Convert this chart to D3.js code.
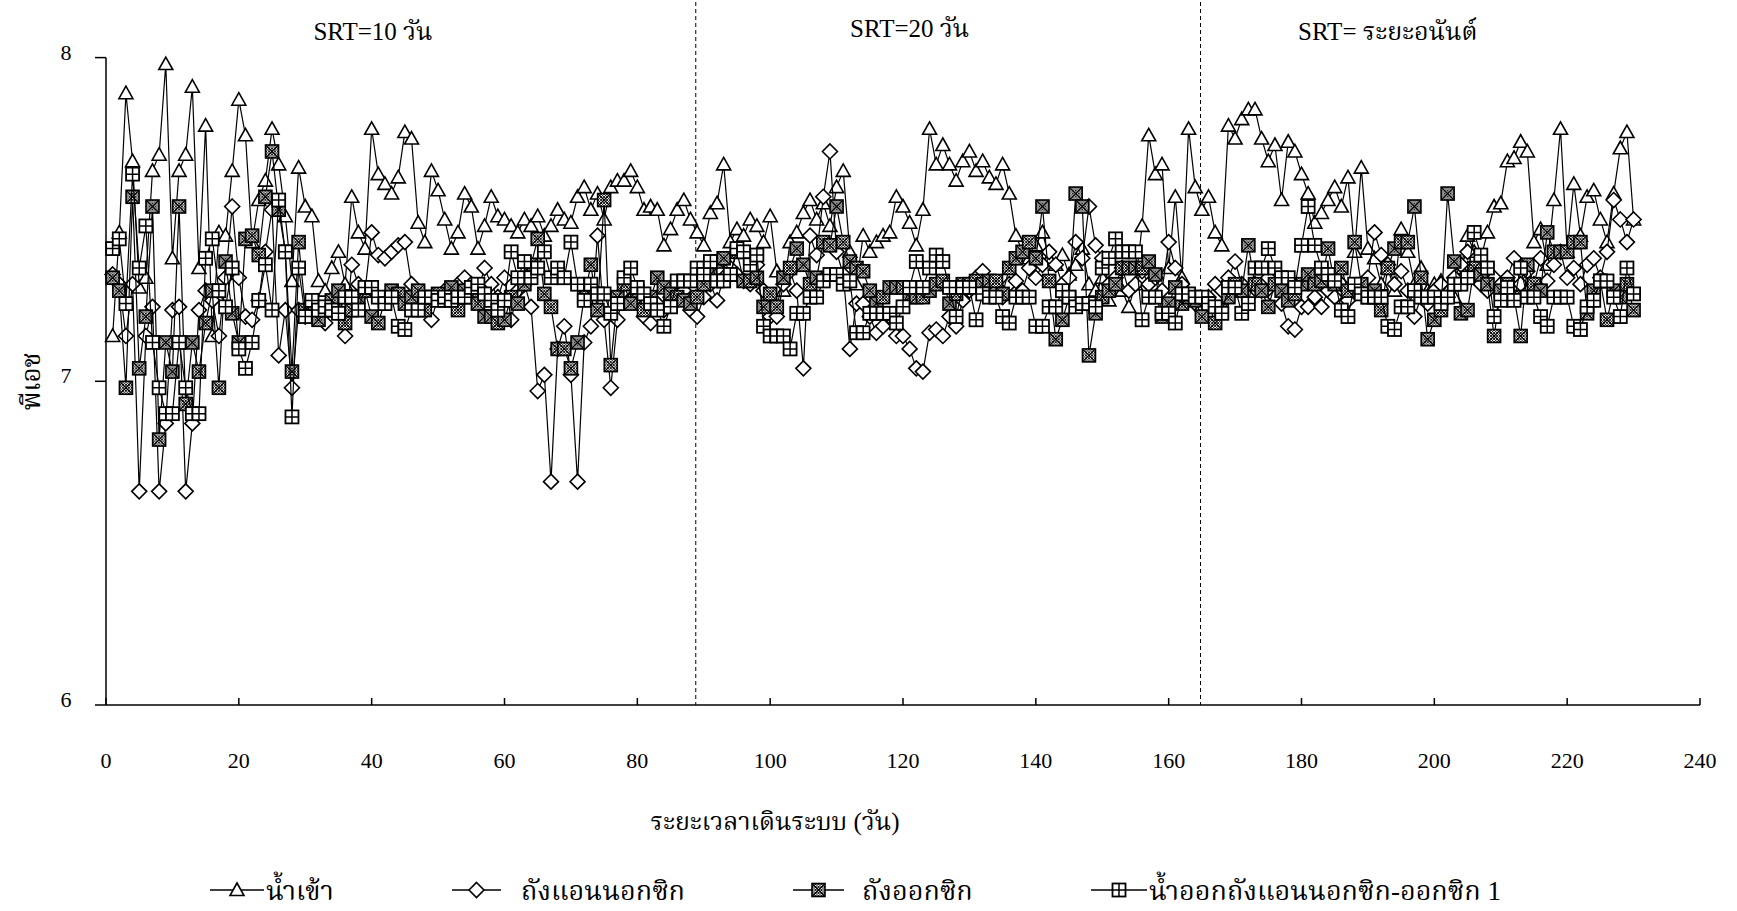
<html>
<head>
<meta charset="utf-8">
<script src="https://d3js.org/d3.v7.min.js"></script>
<style>
body { margin: 0; background: #fff; }
text { font-family: "Liberation Serif", "Norasi", "Kinnari", "Noto Serif Thai", "Noto Sans Thai", "DejaVu Serif", serif; fill: #000; }
</style>
</head>
<body>
<div id="chart"></div>
<script>

// pH per day, days 1..230
const influent = [7.14,7.46,7.89,7.68,7.29,7.32,7.65,7.70,7.98,7.38,7.65,7.70,7.91,7.35,7.79,7.14,7.46,7.45,7.65,7.87,
  7.76,7.43,7.56,7.62,7.78,7.67,7.51,7.31,7.66,7.54,7.51,7.31,7.28,7.35,7.40,7.30,7.57,7.46,7.41,7.78,
  7.64,7.61,7.58,7.63,7.77,7.75,7.49,7.43,7.65,7.59,7.50,7.41,7.46,7.58,7.54,7.41,7.48,7.57,7.51,7.50,
  7.48,7.46,7.50,7.48,7.51,7.45,7.48,7.53,7.50,7.49,7.57,7.60,7.53,7.58,7.50,7.60,7.62,7.62,7.65,7.60,
  7.53,7.54,7.53,7.42,7.47,7.53,7.56,7.50,7.46,7.42,7.52,7.55,7.67,7.43,7.47,7.45,7.50,7.48,7.43,7.51,
  7.34,7.28,7.43,7.46,7.52,7.56,7.50,7.55,7.48,7.60,7.65,7.40,7.30,7.45,7.40,7.43,7.45,7.46,7.57,7.54,
  7.49,7.42,7.53,7.78,7.67,7.73,7.67,7.62,7.68,7.71,7.65,7.68,7.63,7.61,7.67,7.58,7.45,7.40,7.38,7.42,
  7.46,7.38,7.36,7.39,7.33,7.36,7.41,7.30,7.28,7.32,7.25,7.30,7.28,7.23,7.30,7.48,7.76,7.64,7.67,7.35,
  7.57,7.32,7.78,7.60,7.53,7.57,7.46,7.42,7.79,7.75,7.81,7.84,7.84,7.75,7.68,7.73,7.56,7.74,7.71,7.64,
  7.58,7.49,7.52,7.56,7.60,7.54,7.63,7.40,7.66,7.41,7.38,7.30,7.35,7.28,7.47,7.40,7.30,7.35,7.28,7.30,
  7.31,7.28,7.26,7.35,7.45,7.40,7.38,7.46,7.54,7.55,7.68,7.69,7.74,7.71,7.43,7.47,7.36,7.56,7.78,7.40,
  7.61,7.45,7.57,7.59,7.50,7.43,7.58,7.72,7.77,7.50];

const anoxic = [7.33,7.30,7.14,7.30,6.66,7.14,7.23,6.66,6.87,7.22,7.23,6.66,6.87,7.22,7.28,7.25,7.14,7.32,7.54,7.32,
  7.20,7.19,7.25,7.40,7.53,7.08,7.22,6.98,7.22,7.20,7.24,7.20,7.18,7.22,7.26,7.14,7.36,7.30,7.28,7.46,
  7.39,7.38,7.40,7.42,7.43,7.30,7.25,7.24,7.19,7.26,7.28,7.26,7.30,7.32,7.30,7.28,7.35,7.30,7.26,7.32,
  7.19,7.28,7.30,7.23,6.97,7.02,6.69,7.10,7.17,7.02,6.69,7.12,7.17,7.45,7.19,6.98,7.19,7.28,7.25,7.26,
  7.20,7.18,7.24,7.22,7.26,7.25,7.28,7.22,7.20,7.26,7.30,7.25,7.32,7.35,7.33,7.31,7.30,7.36,7.28,7.20,
  7.20,7.30,7.34,7.28,7.04,7.45,7.39,7.57,7.71,7.40,7.33,7.10,7.24,7.24,7.20,7.15,7.17,7.20,7.14,7.14,
  7.10,7.04,7.03,7.15,7.16,7.14,7.20,7.17,7.25,7.28,7.32,7.34,7.30,7.28,7.26,7.30,7.31,7.28,7.35,7.32,
  7.36,7.40,7.36,7.30,7.32,7.43,7.38,7.54,7.42,7.38,7.30,7.32,7.35,7.28,7.30,7.34,7.30,7.32,7.28,7.43,
  7.35,7.30,7.26,7.24,7.22,7.26,7.30,7.28,7.32,7.37,7.30,7.26,7.30,7.28,7.32,7.26,7.24,7.17,7.16,7.23,
  7.23,7.26,7.23,7.28,7.26,7.30,7.25,7.28,7.30,7.32,7.46,7.39,7.36,7.30,7.34,7.28,7.20,7.26,7.24,7.28,
  7.30,7.26,7.32,7.36,7.40,7.34,7.30,7.28,7.32,7.30,7.32,7.38,7.30,7.34,7.30,7.38,7.31,7.36,7.40,7.32,
  7.35,7.30,7.36,7.38,7.32,7.40,7.56,7.50,7.43,7.50];

const aerobic = [7.32,7.28,6.98,7.57,7.04,7.20,7.54,6.82,7.12,7.03,7.54,6.93,7.12,7.03,7.18,7.28,6.98,7.37,7.21,7.12,
  7.44,7.45,7.39,7.57,7.71,7.53,7.40,7.03,7.43,7.22,7.24,7.19,7.22,7.25,7.28,7.18,7.22,7.26,7.28,7.20,
  7.18,7.25,7.28,7.27,7.24,7.26,7.28,7.22,7.26,7.27,7.25,7.29,7.22,7.28,7.26,7.24,7.20,7.20,7.18,7.19,
  7.26,7.24,7.30,7.36,7.44,7.27,7.23,7.10,7.10,7.04,7.12,7.26,7.36,7.22,7.56,7.05,7.26,7.30,7.24,7.28,
  7.22,7.26,7.32,7.29,7.27,7.26,7.25,7.24,7.26,7.30,7.33,7.37,7.38,7.33,7.40,7.31,7.31,7.32,7.23,7.27,
  7.23,7.32,7.35,7.41,7.36,7.30,7.32,7.43,7.42,7.54,7.43,7.37,7.35,7.34,7.28,7.24,7.26,7.29,7.29,7.29,
  7.26,7.26,7.26,7.28,7.30,7.31,7.24,7.27,7.30,7.30,7.31,7.30,7.31,7.31,7.27,7.35,7.38,7.40,7.43,7.38,
  7.54,7.31,7.13,7.19,7.26,7.58,7.54,7.08,7.21,7.26,7.28,7.30,7.35,7.35,7.35,7.35,7.37,7.33,7.20,7.24,
  7.29,7.24,7.26,7.25,7.20,7.24,7.18,7.22,7.26,7.30,7.28,7.42,7.30,7.28,7.23,7.30,7.28,7.25,7.27,7.30,
  7.33,7.30,7.31,7.41,7.30,7.35,7.28,7.43,7.30,7.26,7.28,7.22,7.35,7.41,7.43,7.43,7.54,7.32,7.13,7.19,
  7.22,7.58,7.37,7.21,7.22,7.35,7.33,7.30,7.14,7.28,7.30,7.26,7.14,7.36,7.30,7.28,7.46,7.40,7.40,7.40,
  7.43,7.43,7.21,7.28,7.31,7.19,7.28,7.26,7.30,7.22];

const effluent = [7.41,7.44,7.24,7.64,7.35,7.48,7.12,6.98,6.90,6.90,7.12,6.98,6.90,6.90,7.38,7.44,7.28,7.23,7.35,7.10,
  7.04,7.12,7.25,7.36,7.22,7.56,7.40,6.89,7.35,7.20,7.25,7.22,7.23,7.22,7.21,7.26,7.26,7.22,7.29,7.29,
  7.26,7.24,7.26,7.17,7.16,7.22,7.22,7.26,7.26,7.25,7.26,7.25,7.26,7.26,7.29,7.30,7.27,7.25,7.22,7.25,
  7.40,7.32,7.37,7.32,7.35,7.40,7.32,7.35,7.32,7.43,7.30,7.25,7.30,7.27,7.27,7.21,7.24,7.32,7.35,7.29,
  7.27,7.24,7.22,7.17,7.23,7.31,7.31,7.31,7.35,7.33,7.37,7.31,7.31,7.33,7.41,7.40,7.36,7.39,7.17,7.14,
  7.14,7.14,7.10,7.21,7.21,7.26,7.26,7.31,7.33,7.33,7.30,7.31,7.15,7.15,7.21,7.21,7.21,7.21,7.18,7.23,
  7.29,7.37,7.29,7.35,7.39,7.37,7.29,7.20,7.29,7.29,7.19,7.27,7.26,7.26,7.20,7.18,7.26,7.26,7.26,7.17,
  7.17,7.23,7.23,7.28,7.26,7.23,7.24,7.24,7.23,7.35,7.38,7.44,7.40,7.40,7.40,7.19,7.26,7.26,7.21,7.21,
  7.18,7.27,7.27,7.26,7.26,7.24,7.23,7.21,7.29,7.29,7.21,7.24,7.35,7.35,7.41,7.35,7.32,7.32,7.29,7.42,
  7.54,7.42,7.35,7.33,7.31,7.22,7.20,7.30,7.27,7.26,7.26,7.26,7.17,7.16,7.23,7.23,7.28,7.26,7.26,7.26,
  7.24,7.26,7.30,7.30,7.32,7.46,7.39,7.35,7.20,7.25,7.29,7.25,7.35,7.26,7.26,7.20,7.17,7.26,7.26,7.26,
  7.17,7.16,7.23,7.25,7.31,7.31,7.26,7.20,7.35,7.27];

const days = d3.range(1, 231);
const xTicks = [0, 20, 40, 60, 80, 100, 120, 140, 160, 180, 200, 220, 240];
const yTicks = [6, 7, 8];
const srtBreaks = [88.8, 164.8];
const srtLabels = [
  { text: "SRT=10 วัน", day: 40.2, y: 40 },
  { text: "SRT=20 วัน", day: 121, y: 37 },
  { text: "SRT= ระยะอนันต์", day: 193, y: 40 }
];
const seriesNames = ["น้ำเข้า", "ถังแอนนอกซิก", "ถังออกซิก", "น้ำออกถังแอนนอกซิก-ออกซิก 1"];

const width = 1737, height = 911;
const x = d3.scaleLinear().domain([0, 240]).range([106, 1700]);
const y = d3.scaleLinear().domain([6, 8]).range([705, 57.6]);

const svg = d3.select("#chart").append("svg")
  .attr("width", width)
  .attr("height", height);

const defs = svg.append("defs");
const pat = defs.append("pattern")
  .attr("id", "hatch")
  .attr("patternUnits", "userSpaceOnUse")
  .attr("width", 3).attr("height", 3);
pat.append("rect").attr("width", 3).attr("height", 3).attr("fill", "#fff");
pat.append("path").attr("d", "M0,0 L3,3 M3,0 L0,3").attr("stroke", "#000").attr("stroke-width", 0.9);

// srt dividers
svg.selectAll(".srt")
  .data(srtBreaks)
  .enter().append("line")
  .attr("x1", d => x(d)).attr("x2", d => x(d))
  .attr("y1", 2).attr("y2", y(6))
  .attr("stroke", "#000").attr("stroke-width", 1)
  .attr("stroke-dasharray", "4,3");

svg.selectAll(".srtLabel")
  .data(srtLabels)
  .enter().append("text")
  .attr("x", d => x(d.day))
  .attr("y", d => d.y)
  .attr("text-anchor", "middle")
  .attr("font-size", "25px")
  .text(d => d.text);

// axes
svg.append("line").attr("x1", x(0)).attr("x2", x(0)).attr("y1", y(8)).attr("y2", y(6))
  .attr("stroke", "#000").attr("stroke-width", 1.5);
svg.append("line").attr("x1", x(0)).attr("x2", x(240)).attr("y1", y(6)).attr("y2", y(6))
  .attr("stroke", "#000").attr("stroke-width", 1.5);

svg.selectAll(".ytick")
  .data(yTicks)
  .enter().append("line")
  .attr("x1", x(0) - 11).attr("x2", x(0))
  .attr("y1", d => y(d)).attr("y2", d => y(d))
  .attr("stroke", "#000").attr("stroke-width", 1.5);

svg.selectAll(".ylab")
  .data(yTicks)
  .enter().append("text")
  .attr("x", 66).attr("y", d => y(d) + 2)
  .attr("text-anchor", "middle")
  .attr("font-size", "22px")
  .text(d => d);

svg.selectAll(".xtick")
  .data(xTicks)
  .enter().append("line")
  .attr("x1", d => x(d)).attr("x2", d => x(d))
  .attr("y1", y(6) - 7).attr("y2", y(6))
  .attr("stroke", "#000").attr("stroke-width", 1.5);

svg.selectAll(".xlab")
  .data(xTicks)
  .enter().append("text")
  .attr("x", d => x(d)).attr("y", 768)
  .attr("text-anchor", "middle")
  .attr("font-size", "22px")
  .text(d => d);

svg.append("text")
  .attr("x", 775).attr("y", 830)
  .attr("text-anchor", "middle")
  .attr("font-size", "25px")
  .text("ระยะเวลาเดินระบบ (วัน)");

svg.append("text")
  .attr("transform", "translate(40," + y(7) + ") rotate(-90)")
  .attr("text-anchor", "middle")
  .attr("font-size", "26px")
  .text("พีเอช");

// markers
function drawMarker(g, kind) {
  if (kind === 0) {
    g.append("path").attr("d", "M0,-7 L7,5.5 L-7,5.5 Z")
      .attr("fill", "#fff").attr("stroke", "#000").attr("stroke-width", 1.6);
  } else if (kind === 1) {
    g.append("path").attr("d", "M0,-7.5 L7.5,0 L0,7.5 L-7.5,0 Z")
      .attr("fill", "#fff").attr("stroke", "#000").attr("stroke-width", 1.6);
  } else if (kind === 2) {
    g.append("rect").attr("x", -6.5).attr("y", -6.5).attr("width", 13).attr("height", 13)
      .attr("fill", "url(#hatch)").attr("stroke", "#000").attr("stroke-width", 1.6);
    g.append("path").attr("d", "M-6,-6 L6,6 M6,-6 L-6,6")
      .attr("stroke", "#000").attr("stroke-width", 1.2);
  } else {
    g.append("rect").attr("x", -6.5).attr("y", -6.5).attr("width", 13).attr("height", 13)
      .attr("fill", "#fff").attr("stroke", "#000").attr("stroke-width", 1.8);
    g.append("path").attr("d", "M-6.5,0 L6.5,0 M0,-6.5 L0,6.5")
      .attr("stroke", "#000").attr("stroke-width", 1.5);
  }
}

const allSeries = [influent, anoxic, aerobic, effluent];
const line = d3.line().x((d, i) => x(days[i])).y(d => y(d));

allSeries.forEach(function (vals, k) {
  svg.append("path")
    .datum(vals)
    .attr("d", line)
    .attr("fill", "none")
    .attr("stroke", "#000")
    .attr("stroke-width", 1.2);
  svg.selectAll(".m" + k)
    .data(vals)
    .enter().append("g")
    .attr("transform", (d, i) => "translate(" + x(days[i]) + "," + y(d) + ")")
    .each(function () { drawMarker(d3.select(this), k); });
});

// legend
const legend = [
  { x1: 210, x2: 264, tx: 266 },
  { x1: 452, x2: 501, tx: 521 },
  { x1: 793, x2: 844, tx: 862 },
  { x1: 1091, x2: 1147, tx: 1149 }
];
legend.forEach(function (L, k) {
  svg.append("line").attr("x1", L.x1).attr("x2", L.x2).attr("y1", 890).attr("y2", 890)
    .attr("stroke", "#000").attr("stroke-width", 1.4);
  drawMarker(svg.append("g").attr("transform", "translate(" + ((L.x1 + L.x2) / 2) + ",890)"), k);
  svg.append("text").attr("x", L.tx).attr("y", 900)
    .attr("font-size", "27px")
    .text(seriesNames[k]);
});

</script>
</body>
</html>
